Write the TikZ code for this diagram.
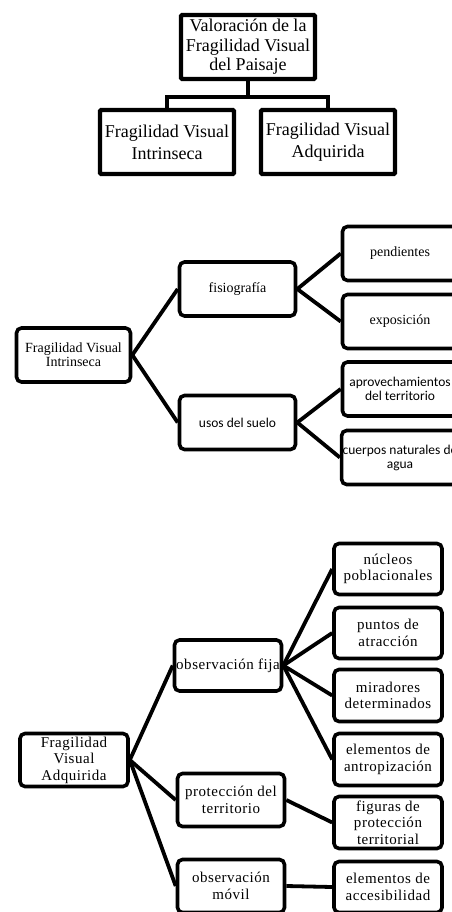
\documentclass[tikz,border=0pt]{standalone}
\usepackage{fontspec}
\setmainfont{Liberation Serif}
\newfontfamily\calibrifont{Carlito}
\newfontfamily\bajafont[LetterSpace=3.5]{Liberation Serif}

\begin{document}
\begin{tikzpicture}[
        x=1pt,y=-1pt,
        caja/.style={draw,line width=3.6pt,rounded corners=5pt,align=center,inner sep=1pt},
        cajatop/.style={draw,line width=4.2pt,rounded corners=1pt,align=center,inner sep=1pt,
            minimum width=134pt,minimum height=64pt,font=\fontsize{18}{20}\selectfont},
        medio/.style={caja,minimum width=115pt,minimum height=54pt,font=\fontsize{14}{14}\selectfont},
        bajo/.style={caja,minimum width=108pt,minimum height=51pt,font=\bajafont\fontsize{15}{16.5}\selectfont},
        rama/.style={line width=3.8pt}
    ]
        \useasboundingbox (0,0) rectangle (451,912);

        % valoracion
        \node[cajatop,font=\fontsize{18}{19.5}\selectfont] (titulo) at (248,47) {Valoración de la\\Fragilidad Visual\\del Paisaje};
        \node[cajatop,font=\fontsize{18}{22}\selectfont] (fvi) at (167,142) {Fragilidad Visual\\Intrinseca};
        \node[cajatop,font=\fontsize{18}{22}\selectfont] (fva) at (328,142) {Fragilidad Visual\\Adquirida};

        \draw[rama,line width=4.2pt] (titulo.south) -- ++(0,16) coordinate (cruce);
        \draw[rama,line width=4.2pt] (fvi.north) |- (cruce) -| (fva.north);

        % intrinseca
        \node[medio,minimum width=114pt] (fviM) at (73.5,355) {Fragilidad Visual\\Intrinseca};
        \node[medio,minimum width=116pt] (fisio) at (237.5,289) {fisiografía};
        \node[medio,minimum width=116pt,font=\calibrifont\fontsize{13.5}{14}\selectfont] (usos) at (237.5,422.5) {usos del suelo};
        \node[medio] (pend) at (400,253.5) {pendientes};
        \node[medio] (expo) at (400,321.5) {exposición};
        \node[medio,font=\calibrifont\fontsize{13.5}{14}\selectfont] (aprov) at (400,389) {aprovechamientos\\del territorio};
        \node[medio,font=\calibrifont\fontsize{13.5}{14}\selectfont] (cuerpos) at (400,457.5) {cuerpos naturales de\\agua};

        \draw[rama] (fviM.east) -- (fisio.west);
        \draw[rama] (fviM.east) -- (usos.west);
        \draw[rama] (fisio.east) -- (pend.west);
        \draw[rama] (fisio.east) -- (expo.west);
        \draw[rama] (usos.east) -- (aprov.west);
        \draw[rama] (usos.east) -- (cuerpos.west);

        % adquirida
        \node[bajo,minimum height=53pt] (fvaB) at (74,760) {Fragilidad\\Visual\\Adquirida};
        \node[bajo,minimum width=107pt] (obsfija) at (228,665.5) {observación fija};
        \node[bajo,minimum width=107pt,minimum height=53pt] (prot) at (231,800) {protección del\\territorio};
        \node[bajo,minimum width=107pt,minimum height=53pt] (movil) at (231,886) {observación\\móvil};
        \node[bajo] (nucleos) at (388,569) {núcleos\\poblacionales};
        \node[bajo] (puntos) at (388,633) {puntos de\\atracción};
        \node[bajo,minimum height=52pt] (mirad) at (388,695.5) {miradores\\determinados};
        \node[bajo,minimum height=52pt] (antrop) at (388,759.5) {elementos de\\antropización};
        \node[bajo,minimum height=52pt] (figuras) at (388,822.5) {figuras de\\protección\\territorial};
        \node[bajo] (acces) at (388,887) {elementos de\\accesibilidad};

        \draw[rama] (fvaB.east) -- (obsfija.west);
        \draw[rama] (fvaB.east) -- (prot.west);
        \draw[rama] (fvaB.east) -- (movil.west);
        \draw[rama] (obsfija.east) -- (nucleos.west);
        \draw[rama] (obsfija.east) -- (puntos.west);
        \draw[rama] (obsfija.east) -- (mirad.west);
        \draw[rama] (obsfija.east) -- (antrop.west);
        \draw[rama] (prot.east) -- (figuras.west);
        \draw[rama] (movil.east) -- (acces.west);
    \end{tikzpicture}
\end{document}
